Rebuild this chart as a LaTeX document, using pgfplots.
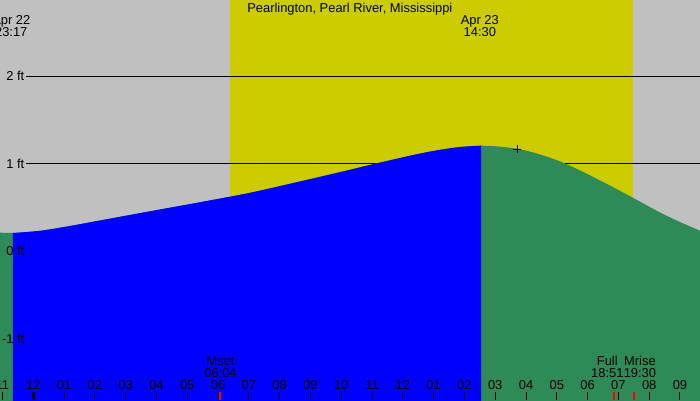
\documentclass[border=0pt]{standalone}
\usepackage{fontspec}
\setmainfont{Liberation Sans}
\usepackage{pgfplots}
\pgfplotsset{compat=1.18}
\usepackage{pgfplotstable}
\definecolor{nightgrey}{RGB}{192,192,192}
\definecolor{dayyellow}{RGB}{204,204,0}
\definecolor{ebbgreen}{RGB}{46,139,87}
\definecolor{floodblue}{RGB}{0,0,255}
% tide height (ft), hours from Apr 22 00:00
\pgfplotstableread{
t h
22.92 0.212
23.34 0.207
24.22 0.232
25.19 0.287
26.17 0.351
27.79 0.456
29.41 0.560
31.04 0.669
32.66 0.799
33.96 0.906
35.03 0.997
35.91 1.069
36.56 1.120
37.21 1.163
37.85 1.195
38.54 1.210
39.16 1.199
39.81 1.169
40.46 1.109
41.11 1.029
41.76 0.925
42.41 0.810
43.06 0.690
43.71 0.566
44.35 0.443
45.00 0.333
45.65 0.233
}\tide
% rising part: low 23:17 Apr 22 to high 14:30 Apr 23
\pgfplotstableread{
t h
23.34 0.207
24.22 0.232
25.19 0.287
26.17 0.351
27.79 0.456
29.41 0.560
31.04 0.669
32.66 0.799
33.96 0.906
35.03 0.997
35.91 1.069
36.56 1.120
37.21 1.163
37.85 1.195
38.54 1.210
}\flood
\begin{document}
\begin{tikzpicture}[font=\fontsize{12.9}{15}\selectfont]
\begin{axis}[
  name=ax,
  scale only axis, width=700pt, height=400pt,
  xmin=22.92, xmax=45.65, ymin=-1.713, ymax=2.885,
  axis x line*=bottom, axis y line=none,
  x axis line style={draw=none},
  axis on top,
  ytick=\empty,
  xtick={23,...,45},
  xticklabels={11,12,01,02,03,04,05,06,07,08,09,10,11,12,01,02,03,04,05,06,07,08,09},
  xtick align=inside, major tick length=8pt,
  tick style={black, line width=1pt},
  extra x ticks={24}, extra x tick labels={},
  extra tick style={major tick style={black, line width=3pt}},
  xticklabel style={anchor=base, yshift=10.7pt, inner sep=0pt},
]
% night / day background
\addplot[draw=none, fill=nightgrey] coordinates {(22.92,-1.713)(22.92,2.885)(45.65,2.885)(45.65,-1.713)} -- cycle;
\addplot[draw=none, fill=dayyellow] coordinates {(30.39,-1.713)(30.39,2.885)(43.47,2.885)(43.47,-1.713)} -- cycle;
% level lines
\addplot[black, line width=1pt] coordinates {(23.76,2)(45.65,2)};
\addplot[black, line width=1pt] coordinates {(23.76,1)(45.65,1)};
\addplot[black, line width=1pt] coordinates {(23.76,0)(45.65,0)};
\addplot[black, line width=1pt] coordinates {(23.76,-1)(45.65,-1)};
% tide areas
\addplot[draw=none, fill=ebbgreen, smooth] table {\tide}
  -- (axis cs:45.65,-1.8) -- (axis cs:22.92,-1.8) -- cycle;
\addplot[draw=none, fill=floodblue, smooth] table {\flood}
  -- (axis cs:38.54,-1.8) -- (axis cs:23.34,-1.8) -- cycle;
% moon events
\addplot[red, line width=1.5pt] coordinates {(30.067,-1.713)(30.067,-1.62)};
\addplot[red, line width=1.5pt] coordinates {(42.85,-1.713)(42.85,-1.62)};
\addplot[red, line width=1.5pt] coordinates {(43.50,-1.713)(43.50,-1.62)};
% now marker
\addplot[only marks, mark=+, mark size=4pt, black, line width=0.8pt] coordinates {(39.71,1.172)};
% labels
\node[anchor=base east, inner sep=0pt] at (axis cs:23.714,1.954) {2 ft};
\node[anchor=base east, inner sep=0pt] at (axis cs:23.714,0.943) {1 ft};
\node[anchor=base east, inner sep=0pt] at (axis cs:23.714,-0.057) {0 ft};
\node[anchor=base east, inner sep=0pt] at (axis cs:23.714,-1.061) {-1 ft};
\node[anchor=base, inner sep=0pt] at (axis cs:34.28,2.736) {Pearlington, Pearl River, Mississippi};
\node[anchor=base, inner sep=0pt] at (axis cs:23.286,2.609) {Apr 22};
\node[anchor=base, inner sep=0pt] at (axis cs:23.286,2.471) {23:17};
\node[anchor=base, inner sep=0pt] at (axis cs:38.5,2.609) {Apr 23};
\node[anchor=base, inner sep=0pt] at (axis cs:38.5,2.471) {14:30};
\node[anchor=base, inner sep=0pt] at (axis cs:30.08,-1.322) {Mset};
\node[anchor=base, inner sep=0pt] at (axis cs:30.08,-1.456) {06:04};
\node[anchor=base, inner sep=0pt] at (axis cs:42.64,-1.322) {Full};
\node[anchor=base, inner sep=0pt] at (axis cs:42.64,-1.456) {18:51};
\node[anchor=base, inner sep=0pt] at (axis cs:43.70,-1.322) {Mrise};
\node[anchor=base, inner sep=0pt] at (axis cs:43.70,-1.456) {19:30};
\end{axis}
\pgfresetboundingbox
\path[use as bounding box] (ax.south west) rectangle (ax.north east);
\end{tikzpicture}
\end{document}
